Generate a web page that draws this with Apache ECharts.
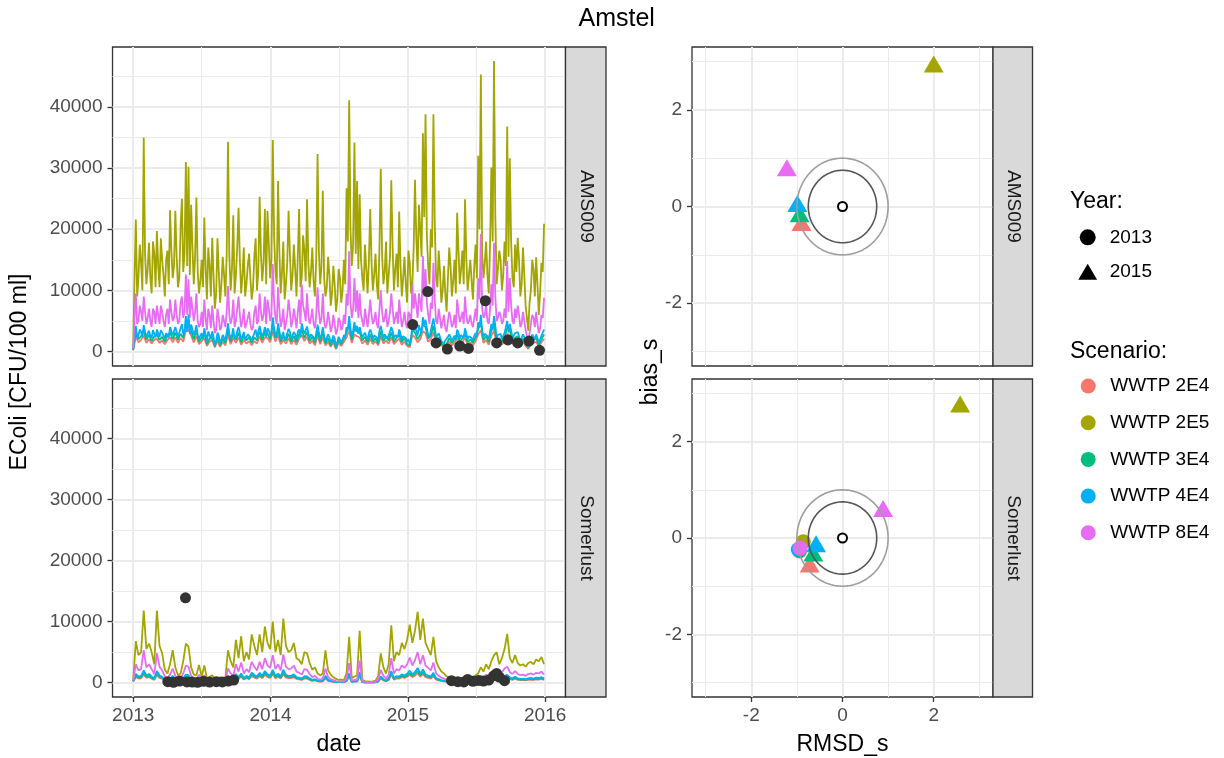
<!DOCTYPE html>
<html><head><meta charset="utf-8">
<script src="https://cdn.jsdelivr.net/npm/echarts@6/dist/echarts.min.js"></script>
<style>html,body{margin:0;padding:0;background:#fff}#c{width:1224px;height:758px}</style>
</head><body><div id="c"></div>
<script>
// ---------------- DATA ----------------
const scenarios = ['WWTP 2E4','WWTP 2E5','WWTP 3E4','WWTP 4E4','WWTP 8E4'];
const sites = ['AMS009','Somerlust'];
const years = ['2013','2015'];
const weekCount = 157; // weekly samples from 2013-01-01
const startDate = '2013-01-01';

// AMS009 modelled E.coli (weekly, and mid-week readings for the dense series)
const ams2E4 = [200,2500,1500,1900,2600,1400,2000,1300,1900,2100,
1400,1800,1200,1900,2300,1500,2300,1400,2200,1600,
3400,3600,2600,1500,2500,1200,1700,2200,900,1600,
1900,650,1800,750,1600,1000,2700,1200,2200,1400,
2300,1100,1900,1300,1700,1000,1700,1300,2500,1400,
2300,2200,1500,3300,1600,2700,1200,1900,1300,2200,
1200,1900,1100,2100,2700,1700,2400,1300,1800,1000,
2600,1200,2300,1000,1600,750,1500,400,1400,900,
1600,2300,3400,1400,2800,2500,2300,1300,1800,1100,
2100,1200,1700,1000,2500,1300,1800,1300,2300,1200,
1700,2100,1100,1600,900,700,2700,2300,1500,2000,
3300,3000,1600,2000,3200,1300,1700,1000,750,900,
1600,1000,1500,2100,1200,1600,2200,1100,1500,1000,
1700,2800,3500,1400,1900,1100,2600,3400,1300,1600,
1100,1700,2900,2600,1300,1700,1900,1000,1600,900,
450,1100,1400,1600,800,1500,2100];
const ams2E5 = [500,21600,12000,14500,35000,11000,17800,9500,16000,19700,
10500,15000,9000,16500,23100,12000,23000,10500,20500,13000,
31000,30200,24000,11000,25200,9500,15000,21900,8500,14000,
18600,7000,18500,8000,15500,9000,34300,10000,22300,12500,
23500,9500,17000,11000,16000,8500,15500,10000,25300,11500,
23300,23000,12000,34600,13000,27900,9500,18000,11000,23000,
10000,17500,9000,23300,12000,16500,24900,10500,17000,9000,
32300,11000,26300,9000,15500,7500,14000,6500,13500,8000,
15000,26700,41100,14000,34200,27900,25700,12000,17500,9500,
23300,10000,16000,8500,29900,11000,18000,12500,28000,10000,
16000,22900,9000,15500,8000,14500,11000,28100,13000,20000,
35700,38800,14000,20000,38800,12000,16500,8000,14000,6500,
17000,9000,15000,22700,11000,16500,24900,10000,15000,8500,
17500,32000,45300,12000,18000,9500,30100,47500,11000,16500,
10000,18000,36800,31600,12000,17500,18600,9000,17000,7500,
3400,10000,13500,15400,6000,14500,20900];
const ams2E5Mid = [12000,9000,17500,10000,16000,13500,12000,18000,10500,14000,
18500,12500,15000,11000,16500,14000,15500,12000,25000,16000,
14000,12500,17000,15500,13000,11500,10500,13500,17000,9000,
12500,9500,13000,11000,12500,16000,15500,13500,9500,17000,
15000,12500,9000,14000,12000,10500,18500,13000,16000,14500,
11000,17500,15000,19000,11000,16500,13000,8500,14500,16000,
12500,13500,15500,10500,19000,11500,14500,13000,11500,15000,
16500,14000,12000,10500,12500,9500,11000,8500,12000,10000,
11000,18000,20000,17500,16000,13500,15000,10000,13500,15000,
14500,12500,11000,17000,16000,13000,9500,15500,17000,13500,
10500,14000,12000,11000,16500,9500,17000,18500,24000,15500,
22000,19000,11000,17000,21000,10500,13000,10000,9500,12000,
14000,11500,9500,16500,13500,11000,15000,12500,11500,14000,
12000,20000,16000,14500,12500,17500,18000,22000,13500,15000,
12500,14000,15500,18000,10500,13000,15000,11000,12500,5500,
8000,15000,9000,11000,9500,13000];
const ams3E4 = [250,3300,2000,2500,3400,1900,2700,1700,2500,2800,
1900,2400,1600,2600,3100,2000,3100,1900,2900,2200,
4500,4800,3400,2000,3300,1600,2300,2900,1200,2100,
2500,850,2400,1000,2100,1400,3600,1600,2900,1900,
3100,1500,2500,1800,2300,1400,2300,1800,3300,1900,
3100,2900,2000,4400,2200,3600,1600,2500,1800,2900,
1600,2500,1500,2800,3600,2200,3200,1700,2400,1400,
3400,1600,3100,1300,2200,1000,2000,550,1900,1200,
2100,3100,4500,1900,3700,3300,3100,1800,2400,1500,
2800,1600,2200,1300,3300,1700,2400,1800,3100,1600,
2200,2800,1500,2200,1200,950,3600,3100,2000,2700,
4400,4000,2100,2600,4200,1800,2300,1300,1000,1200,
2200,1400,2000,2800,1600,2200,2900,1500,2000,1400,
2300,3700,4700,1900,2500,1500,3500,4500,1700,2200,
1500,2300,3900,3500,1700,2300,2500,1400,2200,1200,
600,1500,1900,2200,1100,2000,2800];
const ams4E4 = [300,4200,2600,3200,4300,2400,3400,2200,3200,3600,
2400,3100,2100,3300,4000,2600,4000,2400,3800,2800,
5800,6100,4400,2600,4300,2100,3000,3800,1600,2700,
3300,1100,3100,1300,2700,1800,4600,2100,3800,2400,
4000,2000,3200,2300,3000,1800,3000,2300,4200,2500,
4000,3800,2600,5600,2800,4600,2100,3200,2300,3700,
2100,3200,1900,3600,4600,2900,4100,2200,3100,1800,
4400,2100,4000,1700,2800,1300,2600,700,2400,1500,
2700,4000,5800,2500,4800,4200,4000,2300,3100,1900,
3600,2100,2900,1700,4200,2200,3100,2300,4000,2100,
2900,3600,1900,2800,1600,1200,4600,4000,2600,3500,
5600,5200,2700,3400,5400,2300,3000,1700,1300,1500,
2800,1800,2600,3600,2100,2800,3800,2000,2600,1800,
3000,4800,6000,2400,3200,2000,4500,5800,2200,2800,
2000,3000,5000,4500,2200,3000,3200,1800,2800,1600,
800,2000,2400,2800,1400,2600,3600];
const ams4E4Mid = [2800,2200,3600,2400,3200,2900,2600,3500,2300,3000,
3500,2600,3000,2300,3300,2800,3200,2600,4500,3400,
3200,2900,3600,3300,2700,2400,2100,2800,3300,2000,
2400,1600,2600,1900,2400,3100,2900,2700,2000,3300,
3000,2500,1900,2800,2300,2000,3600,2600,3200,3000,
2400,3400,3000,3800,2300,3400,2600,1800,3000,3200,
2600,2800,3200,2300,3600,2600,3000,2800,2300,3000,
3100,2700,2500,2200,2400,1900,2100,1500,2300,1900,
2200,3500,3800,3400,3300,2900,3100,2200,2800,3000,
3000,2600,2300,3400,3200,2800,2100,3200,3300,2700,
2300,2900,2500,2200,2000,1800,3300,3400,4300,3100,
4300,3800,2300,3400,4000,2300,2700,2000,1800,2400,
2600,2200,1900,3100,2700,2200,2900,2500,2200,2600,
2500,3900,3400,2900,2500,3300,3500,4200,2700,2900,
2500,2700,3100,3500,2200,2700,2900,2200,2400,1200,
1500,2800,2000,2200,1900,2700];
const ams8E4 = [500,9500,5000,6500,9000,4500,7000,4000,6500,7500,
4500,6500,4000,7000,8500,5000,8500,4500,8000,5500,
12600,11800,9000,5000,9500,4000,6500,8500,3500,6000,
7500,3000,7000,3500,6000,4000,10700,4500,8500,5000,
9000,4000,7000,4500,6500,3500,6500,4500,9500,5000,
9000,8500,5000,14300,5500,10500,4000,7000,4500,8500,
4000,7000,3800,8500,11000,6500,9500,4500,7000,3800,
10500,4500,9500,3800,6500,3200,6000,2800,5500,3500,
6000,9500,16400,5500,12000,10000,9500,5000,7000,4000,
8500,4500,6500,3800,10000,4800,7000,5000,9500,4500,
6500,8500,4000,6500,3800,6000,11000,9500,5500,8000,
15600,13500,6000,8000,14500,5000,7000,3800,6000,3200,
6500,4000,6000,8500,4800,6500,9000,4500,6000,4000,
7000,12000,19200,5500,7500,4500,11000,17800,5000,6500,
4500,7000,14800,12000,5000,7000,7500,4000,6500,3500,
1500,4500,5500,6500,3000,6000,8800];
const ams8E4Mid = [5500,4500,7500,5000,6500,5500,5000,7000,4500,6000,
7500,5000,6000,4500,6500,5500,6000,5000,9000,6500,
6000,5500,7000,6500,5000,4500,4000,5500,7000,3800,
5000,3500,5500,4000,5000,6500,6000,5500,4000,7000,
6000,5000,3800,5500,4500,4000,7500,5000,6500,6000,
4500,7000,6000,8000,4500,7000,5000,3500,6000,6500,
5000,5500,6500,4500,7500,5000,6000,5500,4500,6000,
6500,5500,5000,4500,5000,4000,4500,3500,5000,4000,
4500,7500,8000,7000,6500,5500,6000,4000,5500,6000,
6000,5000,4500,7000,6500,5500,4000,6500,7000,5500,
4500,6000,5000,4500,6500,4000,7000,7500,9500,6500,
9000,8000,4500,7000,8500,4500,5500,4000,3800,5000,
5500,4500,3800,6500,5500,4500,6000,5000,4500,5500,
5000,8500,7000,6000,5000,7000,7500,9000,5500,6000,
5000,5500,6500,7500,4500,5500,6000,4500,5000,2500,
3000,6000,4000,4500,3800,5500];

// Somerlust modelled E.coli (weekly)
const som2E4 = [150,900,650,700,1300,780,900,650,450,1250,
780,620,320,230,420,720,360,200,230,490,
850,780,360,200,160,420,150,390,100,130,
160,100,100,130,85,120,720,490,360,900,
590,980,490,720,550,1050,820,650,1050,720,
1250,880,750,1350,720,950,650,1350,820,720,
720,880,590,520,420,680,650,450,290,360,
210,160,210,720,290,180,130,85,65,65,
50,210,980,100,150,160,1100,60,35,30,
25,30,40,150,650,360,210,420,1250,490,
680,650,880,750,950,1250,880,1150,1550,950,
1400,880,750,650,1050,490,360,260,210,150,
130,100,120,90,70,90,70,100,90,130,
180,230,360,260,420,320,490,620,680,420,
550,720,820,550,450,620,450,390,420,360,
450,490,420,520,490,590,420];
const som2E5 = [300,6800,4500,5000,11800,5500,6400,5000,3000,11800,
6000,4800,2100,1500,3000,5300,2500,1200,1500,3500,
6400,5900,2500,1300,1200,2900,1000,2800,700,900,
1200,600,700,900,500,800,5300,3500,2500,7000,
4000,7600,3500,5000,3800,7900,6000,4500,7900,5000,
9200,6500,5500,10000,5000,7000,4500,10500,6000,5000,
5300,6500,4000,3700,3000,5000,4800,3200,2100,2500,
1500,1200,1500,5300,2000,1300,900,600,450,500,
400,1500,7500,700,1000,1200,8500,400,250,200,
150,200,300,1000,4800,2500,1500,3000,9400,3500,
5000,4500,6500,5500,7000,9500,6500,8500,11600,7000,
10500,6500,5500,4500,7500,3500,2500,1800,1500,1000,
900,700,800,600,500,600,500,700,600,900,
1200,1500,2500,1800,3000,2200,3500,4500,5000,3000,
4000,5500,8000,4000,3200,4500,3200,2800,3000,2600,
3200,3400,3000,3800,3500,4200,3000];
const som3E4 = [180,1100,800,900,1600,950,1100,800,560,1500,
950,760,400,280,520,880,440,240,280,600,
1050,950,440,240,200,520,180,480,120,160,
200,120,120,160,100,140,880,600,440,1100,
720,1200,600,880,680,1300,1000,800,1300,880,
1500,1100,920,1700,880,1150,800,1700,1000,880,
880,1100,720,640,520,840,800,560,360,440,
260,200,260,880,360,220,160,100,80,80,
60,260,1200,120,180,200,1350,70,40,35,
30,35,50,180,800,440,260,520,1500,600,
840,800,1100,920,1150,1550,1100,1400,1900,1150,
1700,1100,920,800,1300,600,440,320,260,180,
160,120,140,110,90,110,90,120,110,160,
220,280,440,320,520,400,600,760,840,520,
680,880,1000,680,560,760,560,480,520,440,
560,600,520,640,600,720,520];
const som4E4 = [200,1400,1000,1100,2000,1200,1400,1000,700,1900,
1200,950,500,350,650,1100,550,300,350,750,
1300,1200,550,300,250,650,230,600,150,200,
250,150,150,200,130,180,1100,750,550,1400,
900,1500,750,1100,850,1600,1250,1000,1600,1100,
1900,1350,1150,2100,1100,1450,1000,2100,1250,1100,
1100,1350,900,800,650,1050,1000,700,450,550,
330,250,330,1100,450,280,200,130,100,100,
80,330,1500,150,230,250,1700,90,50,45,
35,45,65,230,1000,550,330,650,1900,750,
1050,1000,1350,1150,1450,1950,1350,1750,2400,1450,
2150,1350,1150,1000,1600,750,550,400,330,230,
200,150,180,140,110,140,110,150,140,200,
280,350,550,400,650,500,750,950,1050,650,
850,1100,1250,850,700,950,700,600,650,550,
700,750,650,800,750,900,650];
const som8E4 = [300,3000,2000,2200,5300,2500,3000,2200,1400,4800,
2600,2000,1000,700,1300,2300,1100,600,700,1500,
2800,2600,1100,600,500,1300,450,1200,300,400,
500,300,300,400,250,350,2300,1500,1100,3000,
1800,3300,1500,2200,1700,3400,2600,2000,3400,2200,
4000,2800,2400,4500,2200,3000,2000,4600,2600,2200,
2300,2800,1800,1600,1300,2200,2100,1400,900,1100,
650,500,650,2300,900,550,400,250,200,200,
150,650,3200,300,450,500,3600,180,100,90,
70,90,130,450,2100,1100,650,1300,4000,1500,
2200,2000,2800,2400,3000,4100,2800,3700,5000,3000,
4500,2800,2400,2000,3300,1500,1100,800,650,450,
400,300,350,270,220,270,220,300,270,400,
550,700,1100,800,1300,1000,1500,1900,2100,1300,
1700,2300,2600,1700,1400,1900,1400,1200,1300,1100,
1400,1500,1300,1600,1500,1800,1300];

// Observations
const amsObsDates = ['2015-01-14','2015-02-23','2015-03-17','2015-04-16','2015-05-19','2015-06-11',
  '2015-07-26','2015-08-25','2015-09-24','2015-10-20','2015-11-19','2015-12-17'];
const amsObsValues = [4400,9800,1400,400,900,500,8300,1400,1900,1400,1700,200];
const somObsDates = ['2013-04-03','2013-04-18','2013-05-04','2013-05-20','2013-05-24','2013-06-07','2013-06-21',
  '2013-07-07','2013-07-23','2013-08-10','2013-08-26','2013-09-11','2013-09-25',
  '2015-04-27','2015-05-14','2015-05-30','2015-06-09','2015-06-23','2015-07-08','2015-07-21',
  '2015-08-04','2015-08-17','2015-08-25','2015-09-01','2015-09-15'];
const somObsValues = [150,50,250,13900,100,80,30,200,80,150,100,250,400,
  300,150,100,500,200,350,250,400,1100,1500,900,300];

// Target diagram (order = scenarios)
const amsRmsd2015 = [-0.90, 2.00, -0.94, -0.99, -1.22];
const amsBias2015 = [-0.33, 2.95, -0.15, 0.06, 0.80];
const somRmsd2015 = [-0.72, 2.58, -0.64, -0.58, 0.89];
const somBias2015 = [-0.54, 2.78, -0.31, -0.12, 0.61];
const somRmsd2013 = [-0.94, -0.86, -0.95, -0.97, -0.93];
const somBias2013 = [-0.27, -0.08, -0.26, -0.24, -0.21];
const targetRings = [1.0, 0.75];

// Tick labels
const yearTickDates = ['2013-01-01','2014-01-01','2015-01-01','2016-01-01'];
const midYearDates = ['2013-07-02','2014-07-02','2015-07-02'];
const concTicks = [0,10000,20000,30000,40000];
const concMinorTicks = [5000,15000,25000,35000,45000];
const targetTicks = [-2,0,2];
const targetMinorTicks = [-3,-1,1,3];

// ---------------- STYLE / LAYOUT ----------------
const COLORS = ['#F8766D','#A3A500','#00BF7D','#00B0F6','#E76BF3'];
const FONT = '"Liberation Sans", Arial, Helvetica, sans-serif';
const DAY = 86400000;
const toTs = s => Date.parse(s + 'T00:00:00Z');
const T0 = toTs(startDate);
const weeks = Array.from({length: weekCount}, (_, i) => T0 + i * 7 * DAY);
const X_MIN = T0 - 55 * DAY, X_MAX = toTs('2016-01-01') + 54 * DAY;
const Y_MIN = -2370, Y_MAX = 49800;
const T_MIN = -3.3, T_MAX = 3.3;

// weekly series -> [date, value] pairs; optional mid-week readings are interleaved
function pairs(weekly, mid) {
  const out = [];
  weekly.forEach((v, i) => {
    out.push([weeks[i], v]);
    if (mid && i < mid.length) out.push([weeks[i] + 3.5 * DAY, mid[i]]);
  });
  return out;
}

const grids = [
  {left: 112.5, top: 47, width: 453, height: 319},
  {left: 112.5, top: 379, width: 453, height: 318},
  {left: 692, top: 47, width: 301, height: 319},
  {left: 692, top: 379, width: 301, height: 318}
].map(g => Object.assign(g, {show: true, backgroundColor: '#fff', borderColor: '#333333', borderWidth: 1.3, containLabel: false}));

function majorAxis(gridIndex, min, max, ticks, fmt, showLabels, pos, margin) {
  return { type: 'value', gridIndex, min, max, position: pos,
    axisLine: {show: false, onZero: false},
    axisTick: {show: showLabels, length: 5, lineStyle: {color: '#333333', width: 1.3}, customValues: ticks},
    axisLabel: {show: showLabels, customValues: ticks, formatter: fmt, color: '#4D4D4D', fontSize: 19, fontFamily: FONT, margin: margin},
    splitLine: {show: true, lineStyle: {color: '#EBEBEB', width: 2}},
    minorTick: {show: false}, minorSplitLine: {show: false} };
}
function minorAxis(gridIndex, min, max, ticks, pos) {
  return { type: 'value', gridIndex, min, max, position: pos,
    axisLine: {show: false, onZero: false},
    axisTick: {show: false, customValues: ticks},
    axisLabel: {show: false, customValues: ticks},
    splitLine: {show: true, lineStyle: {color: '#EBEBEB', width: 1}} };
}
const yearFmt = v => String(new Date(v).getUTCFullYear());
const numFmt = v => String(v);
const yearTicks = yearTickDates.map(toTs), midYears = midYearDates.map(toTs);

const xAxis = [
  majorAxis(0, X_MIN, X_MAX, yearTicks, yearFmt, false, 'bottom', 9),
  minorAxis(0, X_MIN, X_MAX, midYears, 'top'),
  majorAxis(1, X_MIN, X_MAX, yearTicks, yearFmt, true, 'bottom', 9),
  minorAxis(1, X_MIN, X_MAX, midYears, 'top'),
  majorAxis(2, T_MIN, T_MAX, targetTicks, numFmt, false, 'bottom', 9),
  minorAxis(2, T_MIN, T_MAX, targetMinorTicks, 'top'),
  majorAxis(3, T_MIN, T_MAX, targetTicks, numFmt, true, 'bottom', 9),
  minorAxis(3, T_MIN, T_MAX, targetMinorTicks, 'top')
];
const yAxis = [
  majorAxis(0, Y_MIN, Y_MAX, concTicks, numFmt, true, 'left', 10),
  minorAxis(0, Y_MIN, Y_MAX, concMinorTicks, 'right'),
  majorAxis(1, Y_MIN, Y_MAX, concTicks, numFmt, true, 'left', 10),
  minorAxis(1, Y_MIN, Y_MAX, concMinorTicks, 'right'),
  majorAxis(2, T_MIN, T_MAX, targetTicks, numFmt, true, 'left', 10),
  minorAxis(2, T_MIN, T_MAX, targetMinorTicks, 'right'),
  majorAxis(3, T_MIN, T_MAX, targetTicks, numFmt, true, 'left', 10),
  minorAxis(3, T_MIN, T_MAX, targetMinorTicks, 'right')
];

const series = [];
const siteSeries = [
  [[ams2E4], [ams2E5, ams2E5Mid], [ams3E4], [ams4E4, ams4E4Mid], [ams8E4, ams8E4Mid]],
  [[som2E4], [som2E5], [som3E4], [som4E4], [som8E4]]
];
siteSeries.forEach((arrs, g) => {
  arrs.forEach(([weekly, mid], s) => {
    series.push({ type: 'line', name: scenarios[s], xAxisIndex: 2 * g, yAxisIndex: 2 * g,
      data: pairs(weekly, mid), showSymbol: false, symbol: 'none', silent: true,
      color: COLORS[s], lineStyle: {width: 1.8, color: COLORS[s]}, itemStyle: {color: COLORS[s], borderWidth: 0}, z: 2 });
  });
});
const obs = [[amsObsDates, amsObsValues], [somObsDates, somObsValues]];
obs.forEach(([d, v], g) => {
  series.push({ type: 'scatter', name: 'obs', xAxisIndex: 2 * g, yAxisIndex: 2 * g, silent: true,
    data: d.map((s, i) => [toTs(s), v[i]]), symbol: 'circle', symbolSize: 11,
    itemStyle: {color: '#333333', opacity: 1}, z: 3 });
});

function targetPoints(rm, bi) {
  return rm.map((x, i) => ({value: [x, bi[i]], itemStyle: {color: COLORS[i], opacity: 1}}));
}
series.push({ type: 'scatter', name: years[0], xAxisIndex: 6, yAxisIndex: 6, silent: true,
  symbol: 'circle', symbolSize: 15, itemStyle: {opacity: 1}, data: targetPoints(somRmsd2013, somBias2013), z: 3 });
series.push({ type: 'scatter', name: years[1], xAxisIndex: 4, yAxisIndex: 4, silent: true,
  symbol: 'triangle', symbolSize: [20, 17], itemStyle: {opacity: 1}, data: targetPoints(amsRmsd2015, amsBias2015), z: 3 });
series.push({ type: 'scatter', name: years[1], xAxisIndex: 6, yAxisIndex: 6, silent: true,
  symbol: 'triangle', symbolSize: [20, 17], itemStyle: {opacity: 1}, data: targetPoints(somRmsd2015, somBias2015), z: 3 });

const RING_COLORS = ['#9E9E9E', '#555555'];
[4, 6].forEach(ax => {
  series.push({ type: 'custom', xAxisIndex: ax, yAxisIndex: ax, silent: true, z: 4,
    data: targetRings.map(r => [0, 0, r]),
    renderItem: (params, api) => {
      const cx = api.value(0), cy = api.value(1), r = api.value(2);
      const pts = [];
      for (let k = 0; k <= 180; k++) {
        const a = k / 180 * 2 * Math.PI;
        pts.push(api.coord([cx + r * Math.cos(a), cy + r * Math.sin(a)]));
      }
      return { type: 'polyline', shape: {points: pts},
        style: {stroke: RING_COLORS[params.dataIndex], lineWidth: 1.6, fill: null} };
    } });
  series.push({ type: 'scatter', xAxisIndex: ax, yAxisIndex: ax, silent: true, z: 5,
    data: [[0, 0]], symbol: 'emptyCircle', symbolSize: 9,
    itemStyle: {color: '#000', borderColor: '#000', borderWidth: 1.6, opacity: 1} });
});

function txt(text, x, y, size, rot, align, color) {
  return { type: 'text', x, y, rotation: rot || 0, silent: true, z: 100,
    style: { text, fontSize: size, fontFamily: FONT, fill: color || '#000',
      align: align || 'center', verticalAlign: 'middle', textAlign: align || 'center', textVerticalAlign: 'middle' } };
}
function strip(x, y, w, h, label) {
  return [
    { type: 'rect', silent: true, z: 90, shape: {x, y, width: w, height: h},
      style: {fill: '#D9D9D9', stroke: '#333333', lineWidth: 1.3} },
    txt(label, x + w / 2, y + h / 2, 19, -Math.PI / 2, 'center', '#1A1A1A')
  ];
}
const graphic = [
  txt('Amstel', 616.7, 19.6, 25),
  txt('EColi [CFU/100 ml]', 20, 372, 23, Math.PI / 2),
  txt('date', 339, 745, 23),
  txt('bias_s', 651, 372, 23, Math.PI / 2),
  txt('RMSD_s', 842.5, 745, 23),
  txt('Year:', 1070, 201.7, 23, 0, 'left'),
  txt('Scenario:', 1070, 351.7, 23, 0, 'left'),
  ...strip(565.5, 47, 40.5, 319, sites[0]),
  ...strip(565.5, 379, 40.5, 318, sites[1]),
  ...strip(993, 47, 39.5, 319, sites[0]),
  ...strip(993, 379, 39.5, 318, sites[1])
];

const legendText = {fontSize: 19, color: '#000', fontFamily: FONT, lineHeight: 19};
const TRIANGLE_ICON = 'path://M0 17 L10 0 L20 17 Z';
const legend = [
  { orient: 'vertical', left: 1078.3, top: 227.8, padding: 0, itemWidth: 34, itemHeight: 16, itemGap: 15.4,
    selectedMode: false, textStyle: legendText, itemStyle: {borderWidth: 0}, symbolKeepAspect: true,
    data: [{name: years[0], icon: 'circle', itemStyle: {color: '#000'}}, {name: years[1], icon: TRIANGLE_ICON, itemStyle: {color: '#000'}}] },
  { orient: 'vertical', left: 1080.7, top: 376.5, padding: 0, itemWidth: 34, itemHeight: 15, itemGap: 17.7,
    selectedMode: false, textStyle: legendText, itemStyle: {borderWidth: 0, opacity: 1},
    data: scenarios.map(n => ({name: n, icon: 'circle'})) }
];

const chart = echarts.init(document.getElementById('c'), null, {renderer: 'canvas'});
chart.setOption({
  animation: false, backgroundColor: '#fff',
  textStyle: {fontFamily: FONT},
  grid: grids, xAxis, yAxis, series, graphic, legend
});
</script></body></html>
